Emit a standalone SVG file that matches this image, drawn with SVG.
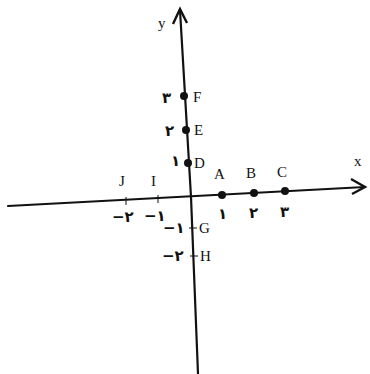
<svg xmlns="http://www.w3.org/2000/svg" width="370" height="374" viewBox="0 0 370 374">
<defs>
<style>
.ax{stroke:#111;stroke-width:2.2;fill:none;stroke-linecap:round}
.head{stroke:#111;stroke-width:2.4;fill:none;stroke-linejoin:miter}
.tick{stroke:#111;stroke-width:1}
.dot{fill:#111}
.lb{font-family:"Liberation Serif",serif;font-size:15px;fill:#111}
.fa{font-family:"DejaVu Sans","Noto Sans",sans-serif;font-size:15px;font-weight:bold;fill:#111}
</style>
</defs>
<rect width="370" height="374" fill="#fff"/>
<g id="connectors">
<path class="ax" d="M8,206 L365,187"/>
<path class="head" d="M351,179 L365,187 L352,194"/>
<path class="ax" d="M180,10 L191,197 L198,374"/>
<path class="head" d="M173,24 L180,9 L187,23"/>
<path class="tick" d="M126,197 L126,205 M158,195 L158,203 M189,228 L197,228 M190,256 L198,256"/>
</g>
<g id="A"><circle class="dot" cx="222" cy="195" r="4"/><text class="lb" x="214" y="179">A</text><text class="fa" x="218" y="219">۱</text></g>
<g id="B"><circle class="dot" cx="254" cy="193" r="4"/><text class="lb" x="246" y="178">B</text><text class="fa" x="249" y="218">۲</text></g>
<g id="C"><circle class="dot" cx="285" cy="191" r="4"/><text class="lb" x="277" y="177">C</text><text class="fa" x="280" y="217">۳</text></g>
<g id="D"><circle class="dot" cx="188" cy="163" r="4"/><text class="lb" x="194" y="168">D</text><text class="fa" x="171" y="166">۱</text></g>
<g id="E"><circle class="dot" cx="186" cy="130" r="4"/><text class="lb" x="194" y="135">E</text><text class="fa" x="165" y="136">۲</text></g>
<g id="F"><circle class="dot" cx="184" cy="96" r="4"/><text class="lb" x="193" y="102">F</text><text class="fa" x="162" y="103">۳</text></g>
<g id="G"><text class="lb" x="199" y="233">G</text><text class="fa" x="163" y="233">−۱</text></g>
<g id="H"><text class="lb" x="200" y="261">H</text><text class="fa" x="162" y="261">−۲</text></g>
<g id="I"><text class="lb" x="151" y="186">I</text><text class="fa" x="144" y="221">−۱</text></g>
<g id="J"><text class="lb" x="119" y="186">J</text><text class="fa" x="112" y="222">−۲</text></g>
<g id="xlabel"><text class="lb" x="354" y="166">x</text></g>
<g id="ylabel"><text class="lb" x="158" y="28">y</text></g>
</svg>
